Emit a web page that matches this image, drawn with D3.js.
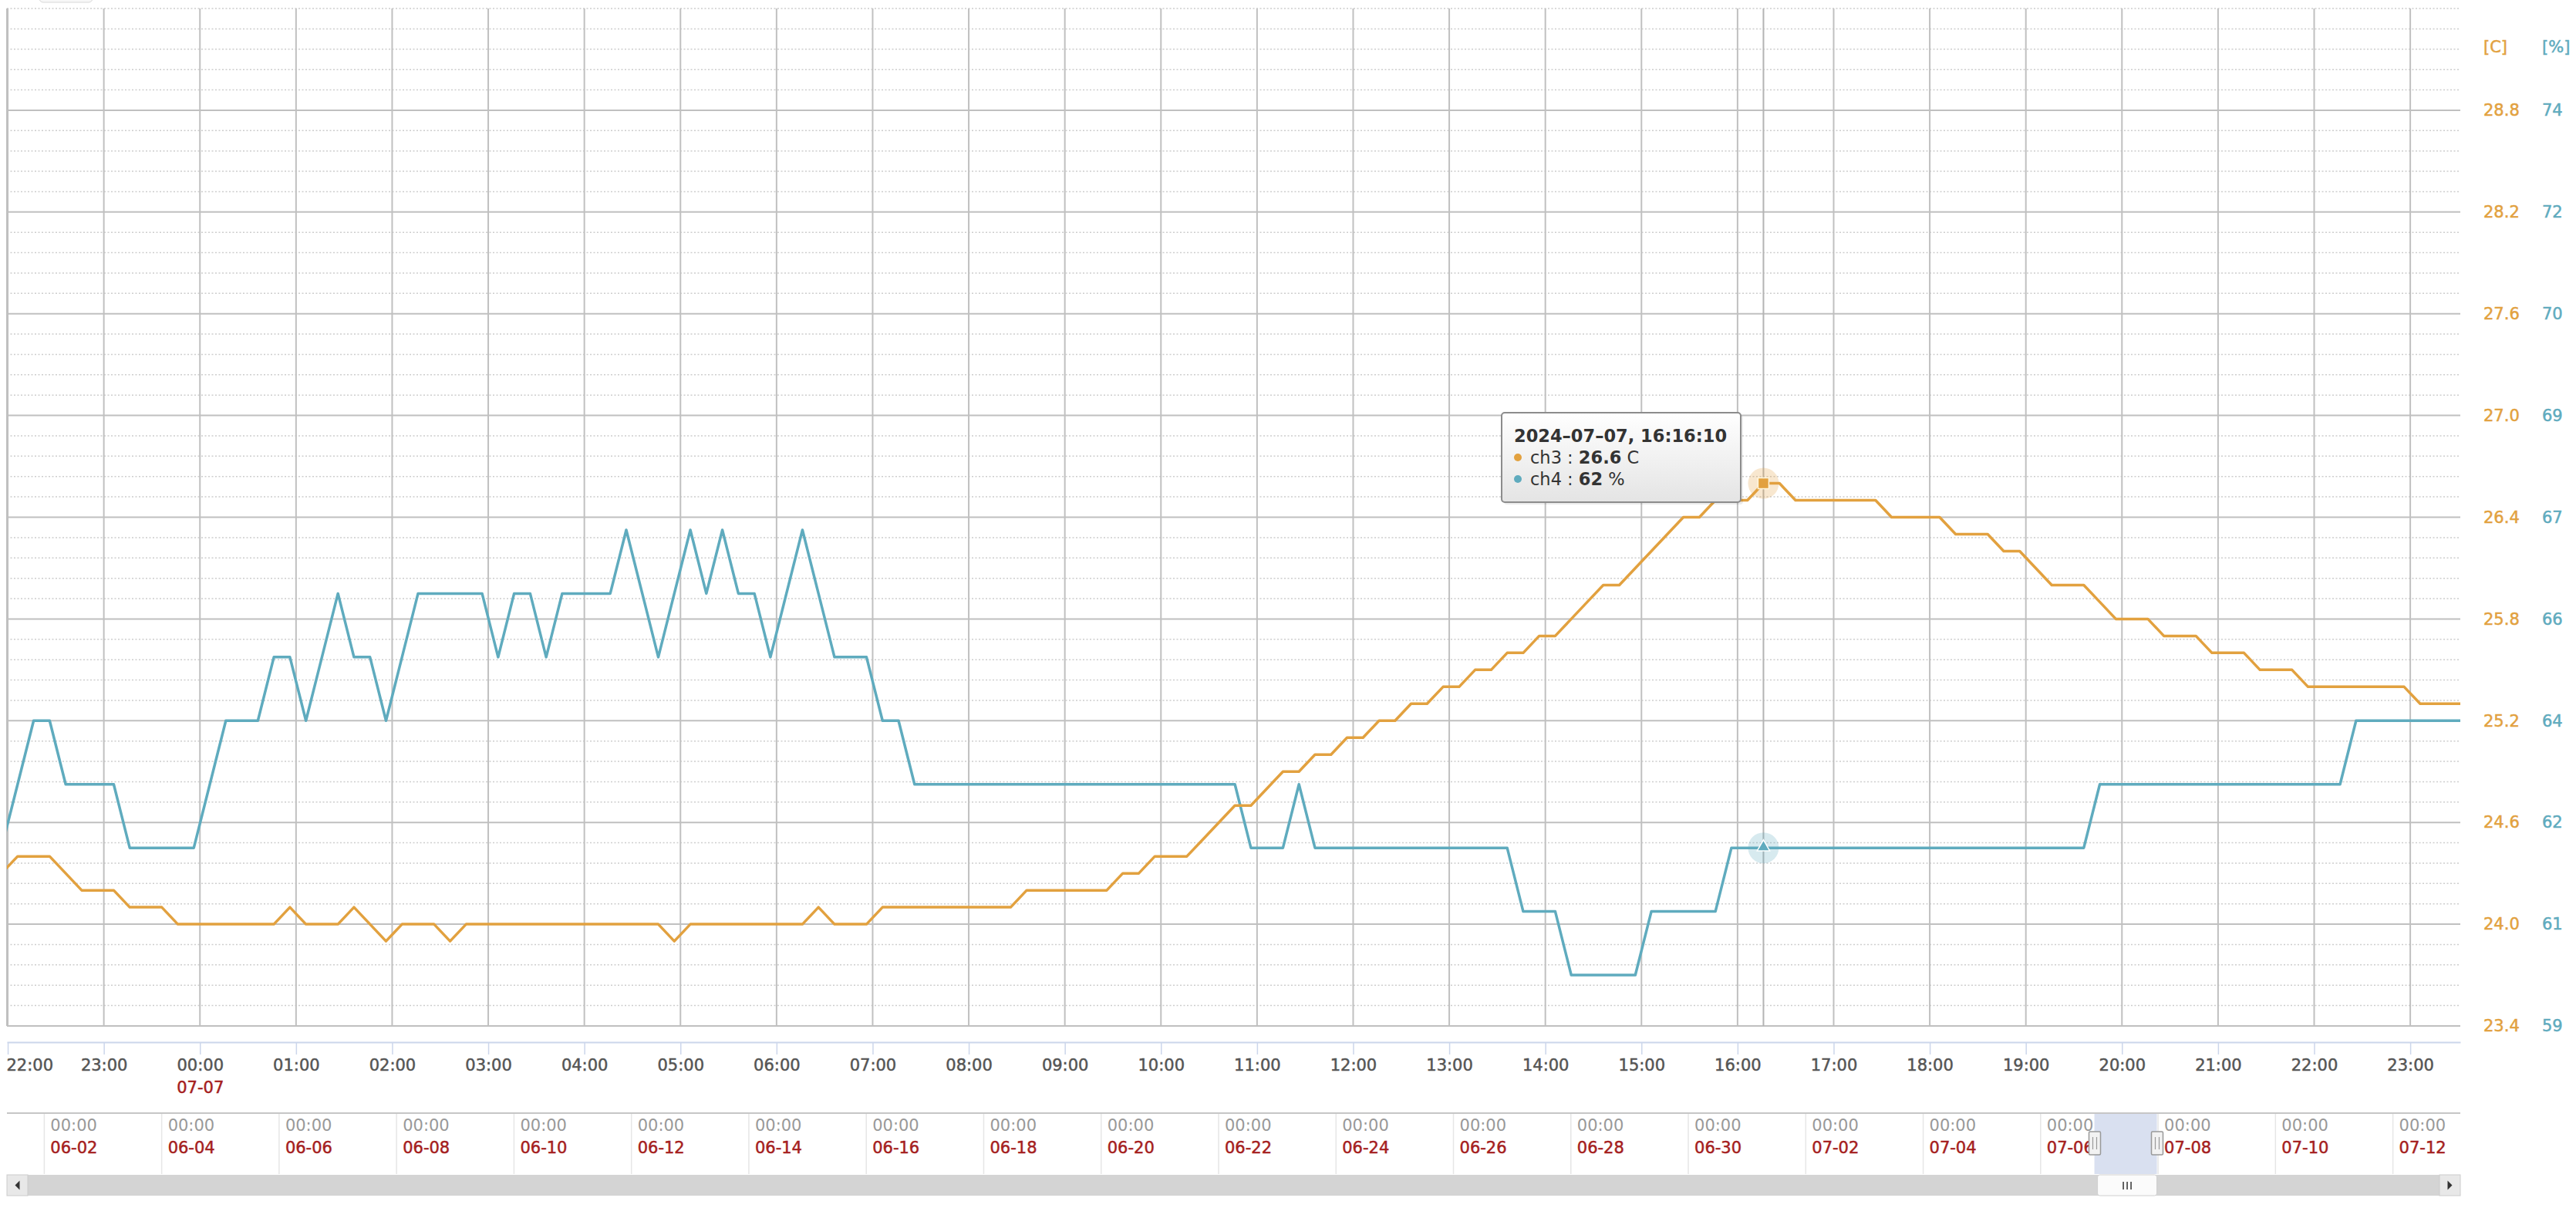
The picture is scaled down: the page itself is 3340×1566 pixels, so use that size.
<!DOCTYPE html>
<html>
<head>
<meta charset="utf-8">
<title>ch3 / ch4</title>
<script src="https://cdn.jsdelivr.net/npm/d3@7/dist/d3.min.js"></script>
<style>
  body { margin: 0; background: #fff; }
  svg { display: block; font-family: "DejaVu Sans", Verdana, sans-serif; }
  .grid-minor { stroke: #cdcdcd; stroke-width: 1.5; stroke-dasharray: 2 2.5; }
  .grid-major { stroke: #c0c0c0; stroke-width: 2; }
  .series { fill: none; stroke-width: 3.5; stroke-linejoin: round; }
  .thick { stroke-width: 0.5; paint-order: stroke; }
</style>
</head>
<body>
<div class="chart"></div>
<script>
const sampleStart = new Date(2024, 6, 6, 21, 56, 10);
const sampleStepMinutes = 10;

// ch3 temperature [C], one value every 10 minutes
const ch3 = [
  24.3, 24.4, 24.4, 24.4, 24.3, 24.2, 24.2, 24.2, 24.1, 24.1,
  24.1, 24.0, 24.0, 24.0, 24.0, 24.0, 24.0, 24.0, 24.1, 24.0,
  24.0, 24.0, 24.1, 24.0, 23.9, 24.0, 24.0, 24.0, 23.9, 24.0,
  24.0, 24.0, 24.0, 24.0, 24.0, 24.0, 24.0, 24.0, 24.0, 24.0,
  24.0, 24.0, 23.9, 24.0, 24.0, 24.0, 24.0, 24.0, 24.0, 24.0,
  24.0, 24.1, 24.0, 24.0, 24.0, 24.1, 24.1, 24.1, 24.1, 24.1,
  24.1, 24.1, 24.1, 24.1, 24.2, 24.2, 24.2, 24.2, 24.2, 24.2,
  24.3, 24.3, 24.4, 24.4, 24.4, 24.5, 24.6, 24.7, 24.7, 24.8,
  24.9, 24.9, 25.0, 25.0, 25.1, 25.1, 25.2, 25.2, 25.3, 25.3,
  25.4, 25.4, 25.5, 25.5, 25.6, 25.6, 25.7, 25.7, 25.8, 25.9,
  26.0, 26.0, 26.1, 26.2, 26.3, 26.4, 26.4, 26.5, 26.5, 26.5,
  26.6, 26.6, 26.5, 26.5, 26.5, 26.5, 26.5, 26.5, 26.4, 26.4,
  26.4, 26.4, 26.3, 26.3, 26.3, 26.2, 26.2, 26.1, 26.0, 26.0,
  26.0, 25.9, 25.8, 25.8, 25.8, 25.7, 25.7, 25.7, 25.6, 25.6,
  25.6, 25.5, 25.5, 25.5, 25.4, 25.4, 25.4, 25.4, 25.4, 25.4,
  25.4, 25.3, 25.3, 25.3, 25.3
];

// ch4 humidity [%]
const ch4 = [
  62, 63, 64, 64, 63, 63, 63, 63, 62, 62,
  62, 62, 62, 63, 64, 64, 64, 65, 65, 64,
  65, 66, 65, 65, 64, 65, 66, 66, 66, 66,
  66, 65, 66, 66, 65, 66, 66, 66, 66, 67,
  66, 65, 66, 67, 66, 67, 66, 66, 65, 66,
  67, 66, 65, 65, 65, 64, 64, 63, 63, 63,
  63, 63, 63, 63, 63, 63, 63, 63, 63, 63,
  63, 63, 63, 63, 63, 63, 63, 63, 62, 62,
  62, 63, 62, 62, 62, 62, 62, 62, 62, 62,
  62, 62, 62, 62, 62, 61, 61, 61, 60, 60,
  60, 60, 60, 61, 61, 61, 61, 61, 62, 62,
  62, 62, 62, 62, 62, 62, 62, 62, 62, 62,
  62, 62, 62, 62, 62, 62, 62, 62, 62, 62,
  62, 63, 63, 63, 63, 63, 63, 63, 63, 63,
  63, 63, 63, 63, 63, 63, 63, 64, 64, 64,
  64, 64, 64, 64, 64
];

const tempTickValues = [23.4, 24.0, 24.6, 25.2, 25.8, 26.4, 27.0, 27.6, 28.2, 28.8];
const tempTickLabels = ["23.4", "24.0", "24.6", "25.2", "25.8", "26.4", "27.0", "27.6", "28.2", "28.8"];
const humTickValues = [59.2, 60.8, 62.4, 64.0, 65.6, 67.2, 68.8, 70.4, 72.0, 73.6];
const humTickLabels = ["59", "61", "62", "64", "66", "67", "69", "70", "72", "74"];

const viewRange = [new Date(2024, 6, 6, 21, 59, 30), new Date(2024, 6, 7, 23, 31, 15)];
const navRange = [new Date(2024, 5, 1, 8, 45), new Date(2024, 6, 13, 3, 33)];
const hoverTime = new Date(2024, 6, 7, 16, 16, 10);

const width = 3340, height = 1566;
const plot = {left: 9, right: 3190, top: 11, bottom: 1330};
const nav = {top: 1443, bottom: 1522};
const orange = "#e2a13f", teal = "#5fabbe", red = "#a51e1e";
const fontSize = 21;

const points = ch3.map((v, i) => ({
  t: d3.timeMinute.offset(sampleStart, i * sampleStepMinutes),
  ch3: v,
  ch4: ch4[i]
}));

const x = d3.scaleTime()
    .domain(viewRange)
    .range([plot.left, plot.right]);

const yT = d3.scaleLinear()
    .domain([23.4, 29.4])
    .range([plot.bottom, plot.top]);

const yH = d3.scaleLinear()
    .domain([59.2, 75.2])
    .range([plot.bottom, plot.top]);

const navX = d3.scaleTime()
    .domain(navRange)
    .range([plot.left, plot.right]);

const svg = d3.select(".chart").append("svg")
    .attr("width", width)
    .attr("height", height);

// bit of a button peeking in at the top
svg.append("rect")
    .attr("x", 51).attr("y", -24)
    .attr("width", 69).attr("height", 27)
    .attr("rx", 5)
    .attr("fill", "#f7f7f7")
    .attr("stroke", "#d8d8d8");

// grid
const gridValues = d3.range(51).map(i => 23.4 + i * 0.12);

svg.append("g").selectAll("line")
    .data(gridValues.filter((d, i) => i % 5 !== 0 || i === 50))
  .enter().append("line")
    .attr("class", "grid-minor")
    .attr("x1", plot.left).attr("x2", plot.right)
    .attr("y1", d => yT(d)).attr("y2", d => yT(d));

svg.append("g").selectAll("line")
    .data(x.ticks(d3.timeHour.every(1)))
  .enter().append("line")
    .attr("class", "grid-major")
    .attr("x1", d => x(d)).attr("x2", d => x(d))
    .attr("y1", plot.top).attr("y2", plot.bottom);

svg.append("g").selectAll("line")
    .data(gridValues.filter((d, i) => i % 5 === 0 && i < 50))
  .enter().append("line")
    .attr("class", "grid-major")
    .attr("x1", plot.left).attr("x2", plot.right)
    .attr("y1", d => yT(d)).attr("y2", d => yT(d));

svg.append("line")
    .attr("class", "grid-major")
    .attr("x1", plot.left).attr("x2", plot.left)
    .attr("y1", plot.top).attr("y2", plot.bottom);

// crosshair
svg.append("line")
    .attr("x1", x(hoverTime)).attr("x2", x(hoverTime))
    .attr("y1", plot.top).attr("y2", plot.bottom)
    .attr("stroke", "#b4b4b4")
    .attr("stroke-width", 2);

svg.append("clipPath")
    .attr("id", "plot-clip")
  .append("rect")
    .attr("x", plot.left).attr("y", plot.top)
    .attr("width", plot.right - plot.left)
    .attr("height", plot.bottom - plot.top);

const lines = svg.append("g")
    .attr("clip-path", "url(#plot-clip)");

lines.append("path")
    .datum(points)
    .attr("class", "series")
    .attr("stroke", teal)
    .attr("d", d3.line().x(d => x(d.t)).y(d => yH(d.ch4)));

lines.append("path")
    .datum(points)
    .attr("class", "series")
    .attr("stroke", orange)
    .attr("d", d3.line().x(d => x(d.t)).y(d => yT(d.ch3)));

// hovered point
const hover = points.find(d => +d.t === +hoverTime);
const hx = x(hover.t);

svg.append("circle")
    .attr("cx", hx).attr("cy", yH(hover.ch4)).attr("r", 20)
    .attr("fill", teal).attr("opacity", 0.25);
svg.append("path")
    .attr("transform", "translate(" + [hx, yH(hover.ch4) - 1] + ")")
    .attr("d", d3.symbol(d3.symbolTriangle, 115)())
    .attr("fill", teal)
    .attr("stroke", "#fff")
    .attr("stroke-width", 1.5);

svg.append("circle")
    .attr("cx", hx).attr("cy", yT(hover.ch3)).attr("r", 20)
    .attr("fill", orange).attr("opacity", 0.25);
svg.append("rect")
    .attr("x", hx - 7).attr("y", yT(hover.ch3) - 7)
    .attr("width", 14).attr("height", 14)
    .attr("fill", orange)
    .attr("stroke", "#fff6dc")
    .attr("stroke-width", 1.5);

// x axis
const xAxis = svg.append("g")
    .attr("transform", "translate(0,1351)")
    .call(d3.axisBottom(x)
      .ticks(d3.timeHour.every(1))
      .tickFormat(d3.timeFormat("%H:%M"))
      .tickSize(16)
      .tickSizeOuter(0)
      .tickPadding(6))
    .attr("font-family", null)
    .attr("font-size", fontSize);

xAxis.select(".domain")
    .attr("stroke", "#ccd6eb")
    .attr("stroke-width", 2);
xAxis.selectAll(".tick line")
    .attr("stroke", "#ccd6eb")
    .attr("stroke-width", 1.5);
xAxis.selectAll(".tick text")
    .attr("class", "thick")
    .attr("fill", "#555")
    .attr("stroke", "#555")
    .each(function(d){
      const w = this.getComputedTextLength();
      if (x(d) - w / 2 < plot.left - 2) {
        d3.select(this).attr("text-anchor", "start").attr("x", plot.left - 1 - x(d));
      }
    });
xAxis.selectAll(".tick")
    .filter(d => d.getHours() === 0)
  .append("text")
    .attr("class", "thick")
    .attr("y", 66)
    .attr("fill", red)
    .attr("stroke", red)
    .attr("text-anchor", "middle")
    .text(d3.timeFormat("%m-%d"));

// y axes
const yAxisT = svg.append("g")
    .attr("transform", "translate(3220,0)")
    .call(d3.axisRight(yT)
      .tickValues(tempTickValues)
      .tickFormat((d, i) => tempTickLabels[i])
      .tickSize(0)
      .tickPadding(0))
    .attr("font-family", null)
    .attr("font-size", fontSize);
yAxisT.select(".domain").remove();
yAxisT.selectAll(".tick text")
    .attr("class", "thick")
    .attr("fill", orange)
    .attr("stroke", orange);

const yAxisH = svg.append("g")
    .attr("transform", "translate(3296,0)")
    .call(d3.axisRight(yH)
      .tickValues(humTickValues)
      .tickFormat((d, i) => humTickLabels[i])
      .tickSize(0)
      .tickPadding(0))
    .attr("font-family", null)
    .attr("font-size", fontSize);
yAxisH.select(".domain").remove();
yAxisH.selectAll(".tick text")
    .attr("class", "thick")
    .attr("fill", teal)
    .attr("stroke", teal);

svg.append("text")
    .attr("class", "thick")
    .attr("x", 3220).attr("y", 68)
    .attr("font-size", fontSize)
    .attr("fill", orange)
    .attr("stroke", orange)
    .text("[C]");
svg.append("text")
    .attr("class", "thick")
    .attr("x", 3296).attr("y", 68)
    .attr("font-size", fontSize)
    .attr("fill", teal)
    .attr("stroke", teal)
    .text("[%]");

// tooltip
const tip = svg.append("g")
    .attr("transform", "translate(1947,535)");

const grad = svg.append("defs").append("linearGradient")
    .attr("id", "tip-bg")
    .attr("x1", 0).attr("x2", 0).attr("y1", 0).attr("y2", 1);
grad.append("stop").attr("offset", "0%").attr("stop-color", "#ffffff");
grad.append("stop").attr("offset", "100%").attr("stop-color", "#e4e4e4");

tip.append("rect")
    .attr("x", 3).attr("y", 3)
    .attr("width", 310).attr("height", 116)
    .attr("rx", 4)
    .attr("fill", "#000")
    .attr("opacity", 0.08);
tip.append("rect")
    .attr("width", 310).attr("height", 116)
    .attr("rx", 4)
    .attr("fill", "url(#tip-bg)")
    .attr("stroke", "#8c8c8c")
    .attr("stroke-width", 2);

tip.append("text")
    .attr("x", 16).attr("y", 38)
    .attr("font-size", 22.5)
    .attr("font-weight", "bold")
    .attr("fill", "#333")
    .text(d3.timeFormat("%Y\u2013%m\u2013%d, %H:%M:%S")(hover.t));

const tipRows = [
  {name: "ch3", value: d3.format(".1f")(hover.ch3), unit: "C", color: orange},
  {name: "ch4", value: hover.ch4, unit: "%", color: teal}
];

const rows = tip.selectAll("g.row")
    .data(tipRows)
  .enter().append("g")
    .attr("class", "row")
    .attr("transform", (d, i) => "translate(0," + (66 + i * 28) + ")");

rows.append("circle")
    .attr("cx", 21).attr("cy", -8).attr("r", 5)
    .attr("fill", d => d.color);

const rowText = rows.append("text")
    .attr("x", 37)
    .attr("font-size", 22.5)
    .attr("fill", "#333");
rowText.append("tspan").text(d => d.name + " : ");
rowText.append("tspan").attr("font-weight", "bold").text(d => d.value);
rowText.append("tspan").text(d => " " + d.unit);

// navigator
const navDays = d3.timeDay.range(new Date(2024, 5, 2), new Date(2024, 6, 13), 2);

svg.append("rect")
    .attr("x", navX(viewRange[0])).attr("y", nav.top)
    .attr("width", navX(viewRange[1]) - navX(viewRange[0]))
    .attr("height", nav.bottom - nav.top)
    .attr("fill", "rgba(102,133,194,0.25)");

const navTicks = svg.append("g").selectAll("g")
    .data(navDays)
  .enter().append("g")
    .attr("transform", d => "translate(" + navX(d) + ",0)");

navTicks.append("line")
    .attr("y1", nav.top).attr("y2", nav.bottom)
    .attr("stroke", "#e6e6e6")
    .attr("stroke-width", 1.5);
navTicks.append("text")
    .attr("x", 8).attr("y", 1466)
    .attr("font-size", fontSize)
    .attr("fill", "#999")
    .text(d3.timeFormat("%H:%M"));
navTicks.append("text")
    .attr("class", "thick")
    .attr("x", 8).attr("y", 1495)
    .attr("font-size", fontSize)
    .attr("fill", red)
    .attr("stroke", red)
    .text(d3.timeFormat("%m-%d"));

svg.append("line")
    .attr("x1", plot.left).attr("x2", plot.right)
    .attr("y1", nav.top).attr("y2", nav.top)
    .attr("stroke", "#c6c6c6")
    .attr("stroke-width", 2);

const handles = svg.append("g").selectAll("g")
    .data(viewRange)
  .enter().append("g")
    .attr("transform", d => "translate(" + [Math.round(navX(d)), 1467] + ")");
handles.append("rect")
    .attr("x", -7.5).attr("width", 15).attr("height", 30)
    .attr("rx", 1.5)
    .attr("fill", "#f2f2f2")
    .attr("stroke", "#999")
    .attr("stroke-width", 1.5);
handles.selectAll("line")
    .data([-2.5, 2.5])
  .enter().append("line")
    .attr("x1", d => d).attr("x2", d => d)
    .attr("y1", 7).attr("y2", 23)
    .attr("stroke", "#999")
    .attr("stroke-width", 1.2);

// scrollbar
const sb = {top: 1523, h: 27, btn: 27};

svg.append("rect")
    .attr("x", plot.left).attr("y", sb.top)
    .attr("width", plot.right - plot.left).attr("height", sb.h)
    .attr("fill", "#d4d4d4");

[plot.left, plot.right - sb.btn].forEach((bx, i) => {
  svg.append("rect")
      .attr("x", bx).attr("y", sb.top)
      .attr("width", sb.btn).attr("height", sb.h)
      .attr("fill", "#e8e8e8")
      .attr("stroke", "#cccccc");
  const cx = bx + sb.btn / 2, cy = sb.top + sb.h / 2, dir = i === 0 ? -1 : 1;
  svg.append("path")
      .attr("d", "M" + (cx + dir * 3) + "," + cy + "L" + (cx - dir * 3) + "," + (cy - 6) + "L" + (cx - dir * 3) + "," + (cy + 6) + "Z")
      .attr("fill", "#333");
});

const thumbX = navX(viewRange[0]) + 4, thumbW = navX(viewRange[1]) - navX(viewRange[0]) - 4;
svg.append("rect")
    .attr("x", thumbX).attr("y", sb.top)
    .attr("width", thumbW).attr("height", sb.h)
    .attr("rx", 3)
    .attr("fill", "#fbfbfb")
    .attr("stroke", "#cfcfcf");
svg.append("g").selectAll("line")
    .data([-5, 0, 5])
  .enter().append("line")
    .attr("x1", d => thumbX + thumbW / 2 + d).attr("x2", d => thumbX + thumbW / 2 + d)
    .attr("y1", sb.top + 9).attr("y2", sb.top + 19)
    .attr("stroke", "#333")
    .attr("stroke-width", 1.5);
</script>
</body>
</html>
